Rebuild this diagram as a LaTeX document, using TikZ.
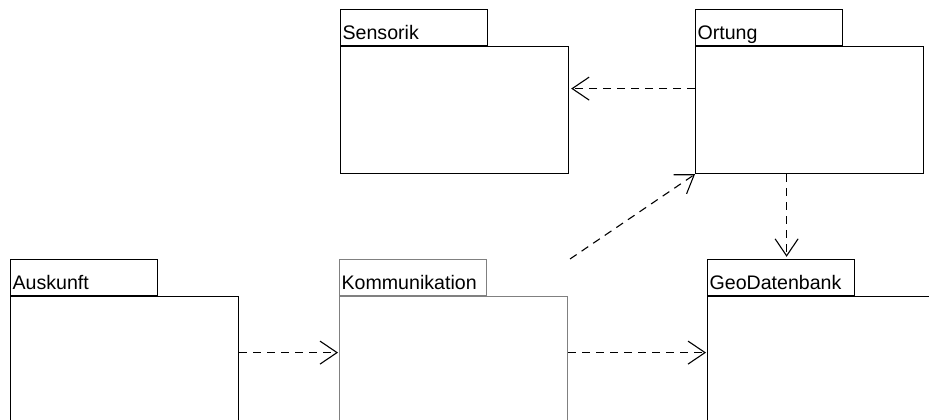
\documentclass[tikz,border=0pt]{standalone}
\usepackage{fontspec}
\setmainfont{Liberation Sans}
\usetikzlibrary{arrows.meta,positioning}

\tikzset{
  pkgbody/.style={draw, line width=1.2pt, rectangle, anchor=north west, inner sep=0pt,
    minimum width=228pt, minimum height=127pt},
  pkgtab/.style={draw, line width=1.2pt, rectangle, anchor=south west, inner xsep=2pt, inner ysep=0pt,
    text width=143pt, text height=30pt, text depth=6pt, font=\fontsize{19.6}{22}\selectfont},
  dep/.style={line width=1.1pt, dash pattern=on 8pt off 6pt,
    -{Straight Barb[length=17pt, width=23pt, line width=1.1pt]}},
}

\begin{document}
\begin{tikzpicture}[x=1pt, y=-1pt]
\useasboundingbox (0,0) rectangle (929,420);
\clip (0,0) rectangle (929,420);
% packages, top row
\node[pkgbody] (sensorik) at (340,46) {};
\node[pkgtab] (sensoriktab) at (sensorik.north west) {Sensorik};
\node[pkgbody] (ortung) at (695,46) {};
\node[pkgtab] (ortungtab) at (ortung.north west) {Ortung};
% packages, bottom row
\node[pkgbody] (auskunft) at (10,296) {};
\node[pkgtab] (auskunfttab) at (auskunft.north west) {Auskunft};
\node[pkgbody, draw=gray] (kommunikation) at (339,296) {};
\node[pkgtab, draw=gray] (kommunikationtab) at (kommunikation.north west) {Kommunikation};
\node[pkgbody] (geodatenbank) at (707,296) {};
\node[pkgtab] (geodatenbanktab) at (geodatenbank.north west) {GeoDatenbank};
% dependencies
\coordinate (kommout) at (570,259);
\draw[dep] ([yshift=21.5pt]ortung.west) -- ([yshift=21.5pt,xshift=2pt]sensorik.east);
\draw[dep] ([xshift=-23pt]ortung.south) -- ([xshift=5.5pt,yshift=2pt]geodatenbanktab.north);
\draw[dep] (kommout) -- (ortung.south west);
\draw[dep] ([yshift=7.5pt]auskunft.east) -- ([yshift=7.5pt,xshift=-1pt]kommunikation.west);
\draw[dep] ([yshift=7.5pt]kommunikation.east) -- ([yshift=7.5pt,xshift=-1pt]geodatenbank.west);
\end{tikzpicture}
\end{document}
